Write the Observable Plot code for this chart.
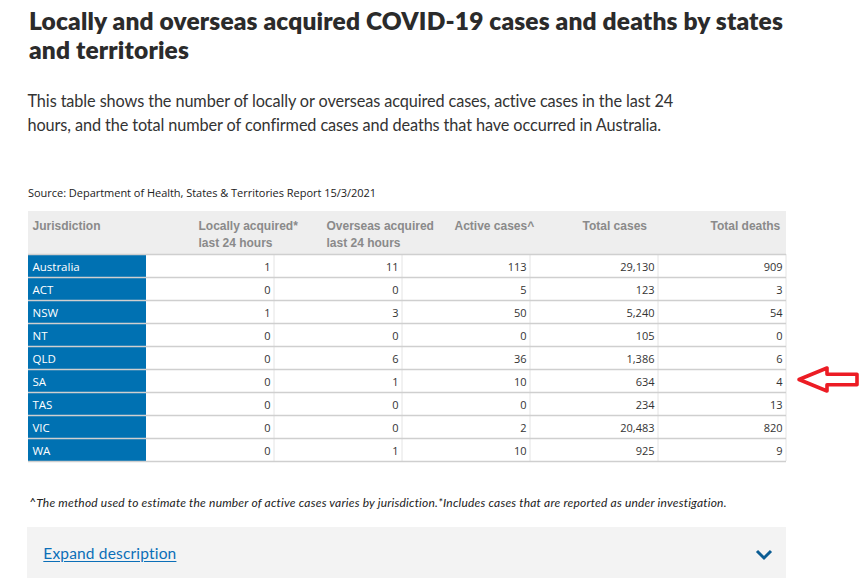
<!DOCTYPE html>
<html><head><meta charset="utf-8">
<script src="https://cdn.jsdelivr.net/npm/d3@7"></script>
<script src="https://cdn.jsdelivr.net/npm/@observablehq/plot@0.6"></script>
<style>
html,body{margin:0;padding:0;background:#fff}
body{width:860px;height:586px;position:relative;overflow:hidden}
.t{position:absolute;white-space:nowrap;line-height:1.2;margin:0;left:0;top:0}
#title1,#title2{font:800 24.5px Lato;color:#2b2b2b}
#sub1,#sub2{font:400 16.3px Lato;color:#333}
#source{font:400 11px "Open Sans";color:#222}
#foot{font:italic 400 12px Lato;color:#222}
#expandBox{position:absolute;left:27px;top:527px;width:759px;height:51px;background:#f3f3f3}
#expand{font:400 15.5px Lato;color:#0b6fb8;text-decoration:underline;text-underline-offset:2px}
#table{position:absolute;left:28px;top:211px;width:758px;height:251px;background:linear-gradient(#eeeeee 0,#eeeeee 43px,transparent 43px)}
#leftPlot{position:absolute;left:0;top:0;width:118px}
#rightPlot{position:absolute;left:118px;top:0;width:714px}
#chev{position:absolute;left:754px;top:546px}
</style></head><body>
<div id="title1" class="t">Locally and overseas acquired COVID-19 cases and deaths by states</div>
<div id="title2" class="t">and territories</div>
<div id="sub1" class="t">This table shows the number of locally or overseas acquired cases, active cases in the last 24</div>
<div id="sub2" class="t">hours, and the total number of confirmed cases and deaths that have occurred in Australia.</div>
<div id="source" class="t">Source: Department of Health, States &amp; Territories Report 15/3/2021</div>
<div id="table"><div id="leftPlot"></div><div id="rightPlot"></div></div>
<div id="foot" class="t">^The method used to estimate the number of active cases varies by jurisdiction.*Includes cases that are reported as under investigation.</div>
<div id="expandBox"></div>
<div id="expand" class="t">Expand description</div>
<svg id="chev" width="20" height="16"><polyline points="3,5 10,12 17,5" fill="none" stroke="#0b5d94" stroke-width="3"/></svg>
<script>
// ---- data ----
const jurisdictions = ["Australia", "ACT", "NSW", "NT", "QLD", "SA", "TAS", "VIC", "WA"];
const localLast24 = [1, 0, 1, 0, 0, 0, 0, 0, 0];
const overseasLast24 = [11, 0, 3, 0, 6, 1, 0, 0, 1];
const activeCases = [113, 5, 50, 0, 36, 10, 0, 2, 10];
const totalCases = [29130, 123, 5240, 105, 1386, 634, 234, 20483, 925];
const totalDeaths = [909, 3, 54, 0, 6, 4, 13, 820, 9];
const firstColumnLabel = "Jurisdiction";
const columnKeys = ["local", "overseas", "active", "cases", "deaths"];
const columnLabels = ["Locally acquired*\nlast 24 hours", "Overseas acquired\nlast 24 hours", "Active cases^", "Total cases", "Total deaths"];
const highlighted = "SA";

// ---- layout ----
const headerH = 43, rowH = 23, firstColW = 118, colW = 128, arrowSpace = 74;
const plotH = headerH + rowH * jurisdictions.length + 1;
const blue = "#0071b2";
const lineColor = "#cfcfcf";
const fmt = d3.format(",");

const series = [localLast24, overseasLast24, activeCases, totalCases, totalDeaths];
const rows = jurisdictions.map(j => ({jurisdiction: j}));
const cells = jurisdictions.flatMap((j, i) => columnKeys.map((k, c) => ({jurisdiction: j, column: k, value: series[c][i]})));
const labelOf = Object.fromEntries(columnKeys.map((k, i) => [k, columnLabels[i]]));

const plotStyle = {background: "transparent", overflow: "visible", maxWidth: "none", fontFamily: "Open Sans", fontSize: "11px"};

const headerAxis = (extra) => Plot.axisX({
  anchor: "top", tickSize: 0, tickPadding: 0, label: null,
  textAnchor: "start", lineAnchor: "top", lineHeight: 17 / 12,
  dy: -(headerH - 14.5 + 0.71 * 12),
  fontFamily: "Liberation Sans, Arial, sans-serif", fontWeight: "bold", fontSize: 12,
  color: "#8a8a8a", ...extra
});

const rowLines = [
  Plot.ruleY(jurisdictions, {y: d => d, dy: -rowH / 2, stroke: lineColor, strokeWidth: 1.5}),
  Plot.ruleY(jurisdictions.slice(-1), {y: d => d, dy: rowH / 2, stroke: lineColor, strokeWidth: 1.5})
];

const left = Plot.plot({
  width: firstColW, height: plotH,
  marginTop: headerH, marginBottom: 1, marginLeft: 0, marginRight: 0,
  style: plotStyle,
  x: {type: "band", domain: [firstColumnLabel], padding: 0},
  y: {type: "band", domain: jurisdictions, padding: 0, axis: null},
  marks: [
    Plot.cell(rows, {x: () => firstColumnLabel, y: "jurisdiction", fill: blue}),
    ...rowLines,
    Plot.text(rows, {x: () => firstColumnLabel, y: "jurisdiction", text: "jurisdiction", textAnchor: "start", dx: -firstColW / 2 + 4, dy: 1, fill: "white", fontSize: 11.5}),
    headerAxis({dx: -firstColW / 2 + 4})
  ]
});

function highlightArrow(index, scales, values, dims) {
  let cy;
  try {
    const y = typeof scales.y === "function" ? scales.y : scales.scales.y.scale;
    cy = y(highlighted) + (y.bandwidth ? y.bandwidth() : rowH) / 2;
  } catch (e) {
    cy = dims.marginTop + (jurisdictions.indexOf(highlighted) + 0.5) * rowH;
  }
  cy -= 1;
  const x0 = dims.width - dims.marginRight + 13;
  const p = [[x0, cy], [x0 + 28, cy - 11.5], [x0 + 28, cy - 5.2], [x0 + 58, cy - 5.2], [x0 + 58, cy + 5.2], [x0 + 28, cy + 5.2], [x0 + 28, cy + 11.5]];
  return d3.create("svg:path")
    .attr("d", "M" + p.map(q => q.join(",")).join("L") + "Z")
    .attr("fill", "white").attr("stroke", "#ec1c24").attr("stroke-width", 3.6)
    .attr("stroke-linejoin", "round").node();
}

const right = Plot.plot({
  width: colW * columnKeys.length + arrowSpace, height: plotH,
  marginTop: headerH, marginBottom: 1, marginLeft: 0, marginRight: arrowSpace,
  style: plotStyle,
  x: {type: "band", domain: columnKeys, padding: 0},
  y: {type: "band", domain: jurisdictions, padding: 0, axis: null},
  marks: [
    Plot.ruleX(columnKeys, {x: d => d, dx: colW / 2 - 0.5, stroke: "#e4e4e4", strokeWidth: 1}),
    ...rowLines,
    Plot.text(cells, {x: "column", y: "jurisdiction", text: d => fmt(d.value), textAnchor: "end", dx: colW / 2 - 4, dy: 1, fill: "#333"}),
    headerAxis({tickFormat: k => labelOf[k], dx: -colW / 2 + 52}),
    highlightArrow
  ]
});

document.getElementById("leftPlot").append(left);
document.getElementById("rightPlot").append(right);

// ---- place HTML text by baseline ----
function place(id, left, baseline, width) {
  const el = document.getElementById(id);
  el.style.left = left + "px";
  el.style.top = "0px";
  if (width) {
    el.style.letterSpacing = "0px";
    const n = el.textContent.length;
    const w = el.getBoundingClientRect().width;
    el.style.letterSpacing = ((width - w) / n) + "px";
  }
  const m = document.createElement("span");
  m.style.cssText = "display:inline-block;width:0;height:0;vertical-align:baseline";
  el.appendChild(m);
  const off = m.getBoundingClientRect().top - el.getBoundingClientRect().top;
  el.removeChild(m);
  el.style.top = (baseline - off) + "px";
  return el.style.letterSpacing;
}
function layout() {
  const ls = place("title1", 29, 29.5, 754);
  document.getElementById("title2").style.letterSpacing = ls;
  place("title2", 29, 58.5);
  const ls2 = place("sub1", 27.5, 107.3, 646);
  document.getElementById("sub2").style.letterSpacing = ls2;
  place("sub2", 27.5, 131.3);
  place("source", 28, 197, 348);
  place("foot", 29, 506.7, 697);
  place("expand", 43.3, 558.8, 133.4);
}
(document.fonts ? document.fonts.ready : Promise.resolve()).then(layout);
layout();
</script>
</body></html>
